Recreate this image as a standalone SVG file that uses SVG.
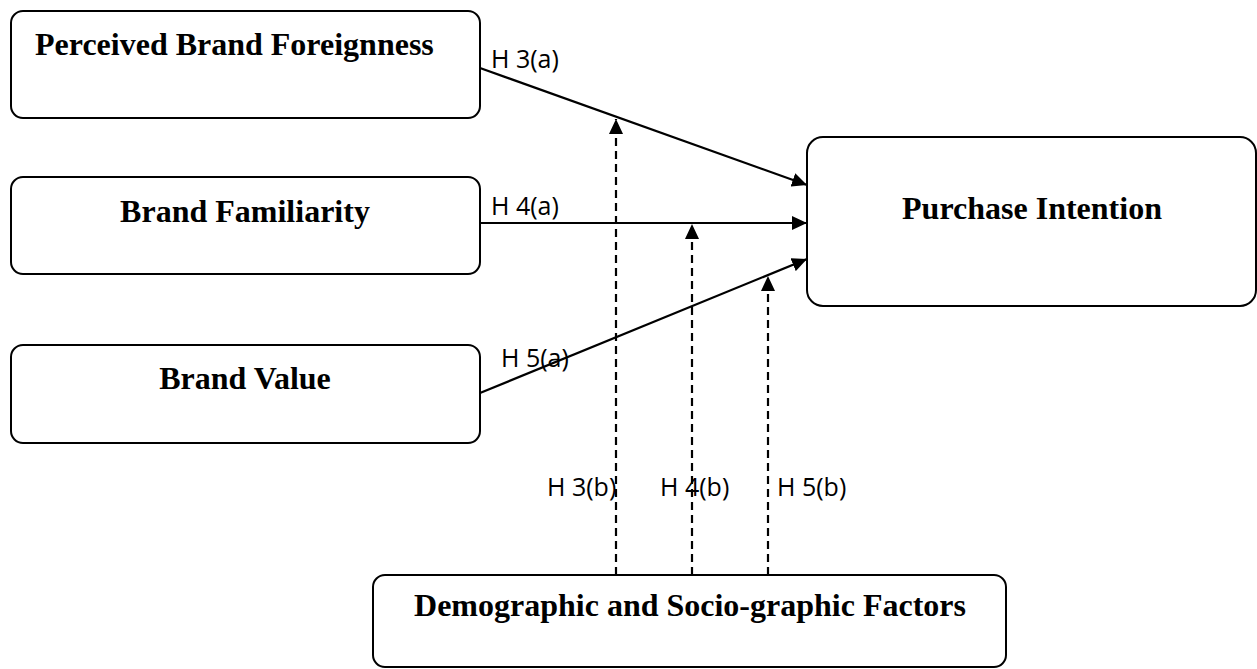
<svg xmlns="http://www.w3.org/2000/svg" width="1257" height="669" viewBox="0 0 1257 669">
<defs>
<style>
.box{fill:#fff;stroke:#000;stroke-width:2}
.t{font-family:"Liberation Serif","Times New Roman",serif;font-weight:bold;font-size:32px;fill:#000}
.lbl{font-family:"Open Sans","Noto Sans",sans-serif;font-size:25px;fill:#000}
.ln{stroke:#000;stroke-width:2.2;fill:none}
.dash{stroke:#000;stroke-width:2.2;fill:none;stroke-dasharray:8 5}
</style>
<marker id="ah" markerUnits="userSpaceOnUse" markerWidth="16" markerHeight="14" refX="15" refY="7" orient="auto">
<path d="M0,0 L15,7 L0,14 z" fill="#000"/>
</marker>
</defs>
<rect width="1257" height="669" fill="#fff"/>
<g id="connectors">
<line class="ln" x1="480" y1="68" x2="807" y2="185" marker-end="url(#ah)"/>
<line class="ln" x1="480" y1="223" x2="807" y2="223" marker-end="url(#ah)"/>
<line class="ln" x1="480" y1="393" x2="807" y2="259" marker-end="url(#ah)"/>
<line class="dash" x1="616" y1="575" x2="616" y2="119" marker-end="url(#ah)"/>
<line class="dash" x1="692" y1="575" x2="692" y2="224" marker-end="url(#ah)"/>
<line class="dash" x1="768" y1="575" x2="768" y2="276" marker-end="url(#ah)"/>
<text class="lbl" x="491" y="68">H 3(a)</text>
<text class="lbl" x="491" y="215">H 4(a)</text>
<text class="lbl" x="501" y="367">H 5(a)</text>
<text class="lbl" x="547" y="496">H 3(b)</text>
<text class="lbl" x="660" y="496">H 4(b)</text>
<text class="lbl" x="777" y="496">H 5(b)</text>
</g>
<g id="node-foreignness">
<rect class="box" x="11" y="11" width="469" height="107" rx="12"/>
<text class="t" x="35" y="55">Perceived Brand Foreignness</text>
</g>
<g id="node-familiarity">
<rect class="box" x="11" y="177" width="469" height="97" rx="12"/>
<text class="t" x="245" y="222" text-anchor="middle">Brand Familiarity</text>
</g>
<g id="node-value">
<rect class="box" x="11" y="345" width="469" height="98" rx="12"/>
<text class="t" x="245" y="389" text-anchor="middle">Brand Value</text>
</g>
<g id="node-purchase">
<rect class="box" x="807" y="137" width="449" height="169" rx="16"/>
<text class="t" x="1032" y="219" text-anchor="middle">Purchase Intention</text>
</g>
<g id="node-demographic">
<rect class="box" x="373" y="575" width="633" height="92" rx="12"/>
<text class="t" x="690" y="616" text-anchor="middle">Demographic and Socio-graphic Factors</text>
</g>
</svg>
